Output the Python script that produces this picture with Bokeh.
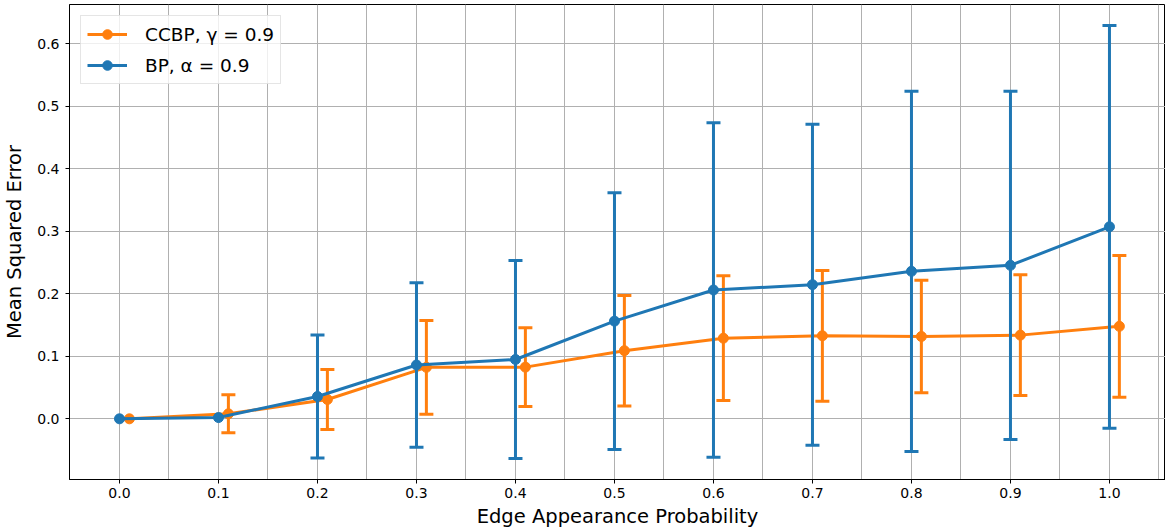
import numpy as np
from bokeh.plotting import figure
from bokeh.models import Range1d, FixedTicker, PrintfTickFormatter, Legend, LegendItem
from bokeh.embed import file_html
from bokeh.resources import INLINE

# ---- data ----
edge_prob = [0.0, 0.1, 0.2, 0.3, 0.4, 0.5, 0.6, 0.7, 0.8, 0.9, 1.0]
ccbp_offset = 0.01
bp_mean = [0.0, 0.002, 0.0357, 0.0861, 0.0949, 0.1563, 0.2061, 0.2146, 0.2360, 0.2456, 0.3072]
bp_std = [0.0, 0.0, 0.0984, 0.1315, 0.1584, 0.2054, 0.2675, 0.2568, 0.2883, 0.2787, 0.3222]
ccbp_mean = [0.0, 0.0080, 0.0309, 0.0824, 0.0827, 0.1090, 0.1290, 0.1328, 0.1317, 0.1339, 0.1480]
ccbp_std = [0.0, 0.0304, 0.0480, 0.0750, 0.0630, 0.0883, 0.0998, 0.1046, 0.0901, 0.0966, 0.1134]
x_ticks = [0.0, 0.1, 0.2, 0.3, 0.4, 0.5, 0.6, 0.7, 0.8, 0.9, 1.0]
x_grid = [round(-0.05 + 0.05 * i, 2) for i in range(23)]
y_ticks = [0.0, 0.1, 0.2, 0.3, 0.4, 0.5, 0.6]
labels = ["CCBP, γ = 0.9", "BP, α = 0.9"]

BLUE = "#1f77b4"
ORANGE = "#ff7f0e"
FONT = "DejaVu Sans"

p = figure(width=1165, height=531, output_backend="svg", toolbar_location=None,
           x_range=Range1d(-0.0505, 1.0566), y_range=Range1d(-0.0971, 0.6629),
           min_border_left=69, min_border_right=0, min_border_top=4, min_border_bottom=52)
p.outline_line_color = "black"
p.outline_line_width = 1
p.background_fill_color = "white"

p.xaxis.ticker = FixedTicker(ticks=x_ticks)
p.yaxis.ticker = FixedTicker(ticks=y_ticks)
p.xaxis.formatter = PrintfTickFormatter(format="%.1f")
p.yaxis.formatter = PrintfTickFormatter(format="%.1f")
p.xgrid.ticker = FixedTicker(ticks=x_grid)
p.ygrid.ticker = FixedTicker(ticks=y_ticks)
for g in (p.xgrid, p.ygrid):
    g.grid_line_color = "#b0b0b0"
    g.grid_line_width = 1

p.xaxis.axis_label = "Edge Appearance Probability"
p.yaxis.axis_label = "Mean Squared Error"
for ax in (p.xaxis, p.yaxis):
    ax.axis_label_text_font = FONT
    ax.axis_label_text_font_size = "19.5px"
    ax.axis_label_text_font_style = "normal"
    ax.axis_label_text_color = "black"
    ax.major_label_text_font = FONT
    ax.major_label_text_font_size = "14px"
    ax.major_label_text_color = "black"
    ax.minor_tick_line_color = None
    ax.major_tick_in = 0
    ax.major_tick_out = 4
    ax.major_tick_line_color = "black"
    ax.axis_line_color = "black"
    ax.major_label_standoff = 4
    ax.axis_label_standoff = 4
p.yaxis.major_label_standoff = 6
p.yaxis.axis_label_standoff = 8


def errorbar_series(xs, mean, std, color):
    xs = np.asarray(xs, dtype=float)
    mean = np.asarray(mean, dtype=float)
    std = np.asarray(std, dtype=float)
    lo, hi = mean - std, mean + std
    p.line(xs, mean, line_color=color, line_width=3)
    p.segment(x0=xs, y0=lo, x1=xs, y1=hi, line_color=color, line_width=3)
    m = std > 0
    p.scatter(np.concatenate([xs[m], xs[m]]), np.concatenate([lo[m], hi[m]]),
              marker="dash", size=14, line_color=color, line_width=3)
    r_pt = p.scatter(xs, mean, marker="circle", size=10, fill_color=color, line_color=color)
    # legend-only glyph (vertical error bar); hidden in the plot itself
    r_leg = p.vspan(x=xs, line_color=color, line_width=3)
    r_leg.visible = False
    return r_leg, r_pt


ccbp_x = [v + ccbp_offset for v in edge_prob]
o_leg, o_pt = errorbar_series(ccbp_x, ccbp_mean, ccbp_std, ORANGE)
b_leg, b_pt = errorbar_series(edge_prob, bp_mean, bp_std, BLUE)

legend = Legend(items=[LegendItem(label=labels[0], renderers=[o_leg, o_pt]),
                       LegendItem(label=labels[1], renderers=[b_leg, b_pt])],
                location="top_left")
legend.label_text_font = FONT
legend.label_text_font_size = "18.5px"
legend.label_text_color = "black"
legend.glyph_width = 40
legend.glyph_height = 24
legend.label_height = 24
legend.spacing = 7
legend.padding = 6
legend.label_standoff = 18
legend.margin = 11
legend.border_line_color = "#cccccc"
legend.border_line_width = 1
legend.background_fill_color = "white"
legend.background_fill_alpha = 0.8
p.add_layout(legend)

open("out.html", "w").write(file_html(p, INLINE))
